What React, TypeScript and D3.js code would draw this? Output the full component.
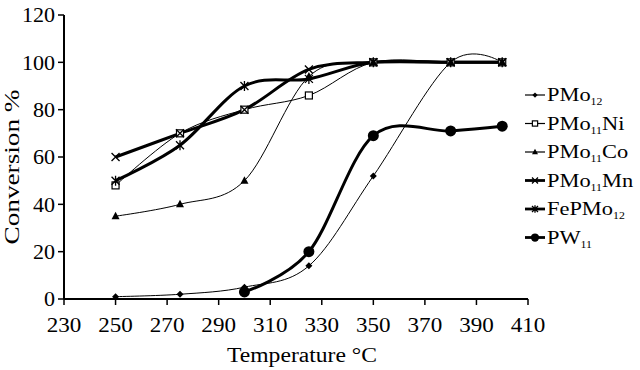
import React from "react";
import * as d3 from "d3";

const temps = [250, 275, 300, 325, 350, 380, 400];
const pmo12 = [1, 2, 5, 14, 52, 100, 100];
const pmo11ni = [48, 70, 80, 86, 100, 100, 100];
const pmo11co = [35, 40, 50, 94, 100, 100, 100];
const pmo11mn = [60, 70, 80, 97, 100, 100, 100];
const fepmo12 = [50, 65, 90, 93, 100, 100, 100];
const pw11: (number | null)[] = [null, null, 3, 20, 69, 71, 73];

const xTicks = [230, 250, 270, 290, 310, 330, 350, 370, 390, 410];
const yTicks = [0, 20, 40, 60, 80, 100, 120];

type Series = {
  name: string;
  sub: string;
  post: string;
  values: (number | null)[];
  width: number;
  marker: string;
};

const series: Series[] = [
  { name: "PMo", sub: "12", post: "", values: pmo12, width: 1, marker: "diamond" },
  { name: "PMo", sub: "11", post: "Ni", values: pmo11ni, width: 1, marker: "square" },
  { name: "PMo", sub: "11", post: "Co", values: pmo11co, width: 1, marker: "triangle" },
  { name: "PMo", sub: "11", post: "Mn", values: pmo11mn, width: 3, marker: "x" },
  { name: "FePMo", sub: "12", post: "", values: fepmo12, width: 3, marker: "star" },
  { name: "PW", sub: "11", post: "", values: pw11, width: 3, marker: "circle" },
];

function Marker({ type, x, y, s = 1 }: { type: string; x: number; y: number; s?: number }) {
  switch (type) {
    case "diamond":
      return <path d={`M${x},${y - 3.5 * s}L${x + 3.5 * s},${y}L${x},${y + 3.5 * s}L${x - 3.5 * s},${y}Z`} fill="#000" />;
    case "square":
      return <rect x={x - 3.5 * s} y={y - 3.5 * s} width={7 * s} height={7 * s} fill="#fff" stroke="#000" strokeWidth={1.2} />;
    case "triangle":
      return <path d={`M${x},${y - 4.5 * s}L${x + 4 * s},${y + 3 * s}L${x - 4 * s},${y + 3 * s}Z`} fill="#000" />;
    case "x":
      return (
        <path
          d={`M${x - 4 * s},${y - 4 * s}L${x + 4 * s},${y + 4 * s}M${x - 4 * s},${y + 4 * s}L${x + 4 * s},${y - 4 * s}`}
          stroke="#000"
          strokeWidth={1.3}
        />
      );
    case "star":
      return (
        <path
          d={`M${x - 4 * s},${y - 4 * s}L${x + 4 * s},${y + 4 * s}M${x - 4 * s},${y + 4 * s}L${x + 4 * s},${y - 4 * s}M${x},${y - 5 * s}L${x},${y + 5 * s}`}
          stroke="#000"
          strokeWidth={1.3}
        />
      );
    case "circle":
      return <circle cx={x} cy={y} r={5.5 * s} fill="#000" />;
    default:
      return null;
  }
}

export default function App() {
  const W = 640;
  const H = 370;
  const x = d3.scaleLinear().domain([230, 410]).range([64, 528]);
  const y = d3.scaleLinear().domain([0, 120]).range([299, 15]);
  const font = "'Liberation Serif', 'Times New Roman', serif";

  const lineGen = d3
    .line<[number, number | null]>()
    .defined((d) => d[1] !== null)
    .x((d) => x(d[0]))
    .y((d) => y(d[1] as number))
    .curve(d3.curveCardinal.tension(0));

  const legendX = 525;
  const legendY0 = 95;
  const legendStep = 28.5;

  return (
    <svg width={W} height={H} style={{ position: "absolute", left: 0, top: 0, background: "#fff" }}>
      <rect width={W} height={H} fill="#fff" />
      {/* axes */}
      <line x1={x(230)} x2={x(230)} y1={y(120)} y2={y(0)} stroke="#000" strokeWidth={2} />
      <line x1={x(230)} x2={x(410)} y1={y(0)} y2={y(0)} stroke="#000" strokeWidth={2} />
      {yTicks.map((t) => (
        <g key={"y" + t}>
          <line x1={x(230) - 6} x2={x(230)} y1={y(t)} y2={y(t)} stroke="#000" strokeWidth={1.5} />
          <text
            transform={`translate(${x(230) - 9},${y(t)}) scale(1.05,1)`}
            dy="0.35em"
            textAnchor="end"
            fontFamily={font}
            fontSize={21}
          >
            {t}
          </text>
        </g>
      ))}
      {xTicks.map((t) => (
        <g key={"x" + t}>
          <line x1={x(t)} x2={x(t)} y1={y(0)} y2={y(0) + 6} stroke="#000" strokeWidth={1.5} />
          <text
            transform={`translate(${x(t)},332) scale(1.1,1)`}
            textAnchor="middle"
            fontFamily={font}
            fontSize={21}
          >
            {t}
          </text>
        </g>
      ))}
      <text
        x={302}
        y={362}
        textAnchor="middle"
        fontFamily={font}
        fontSize={20}
        textLength={150}
        lengthAdjust="spacingAndGlyphs"
      >
        Temperature °C
      </text>
      <text
        transform={`translate(19,167) rotate(-90)`}
        textAnchor="middle"
        fontFamily={font}
        fontSize={21}
        textLength={155}
        lengthAdjust="spacingAndGlyphs"
      >
        Conversion %
      </text>

      {/* series lines */}
      {series.map((s, i) => {
        const pts = temps.map((t, j) => [t, s.values[j]] as [number, number | null]);
        return (
          <path key={"l" + i} d={lineGen(pts) || ""} fill="none" stroke="#000" strokeWidth={s.width} />
        );
      })}
      {series.map((s, i) =>
        temps.map((t, j) =>
          s.values[j] === null ? null : (
            <Marker key={`m${i}-${j}`} type={s.marker} x={x(t)} y={y(s.values[j] as number)} />
          )
        )
      )}

      {/* legend */}
      {series.map((s, i) => {
        const ly = legendY0 + i * legendStep;
        return (
          <g key={"lg" + i}>
            <line x1={legendX} x2={legendX + 20} y1={ly} y2={ly} stroke="#000" strokeWidth={s.width === 1 ? 1.2 : 2.8} />
            <Marker type={s.marker} x={legendX + 10} y={ly} s={0.75} />
            <text
              transform={`translate(${legendX + 22},${ly + 6}) scale(1.18,1)`}
              fontFamily={font}
              fontSize={19}
            >
              {s.name}
              <tspan fontSize={10} dy={4}>
                {s.sub}
              </tspan>
              {s.post ? <tspan dy={-4}>{s.post}</tspan> : null}
            </text>
          </g>
        );
      })}
    </svg>
  );
}
